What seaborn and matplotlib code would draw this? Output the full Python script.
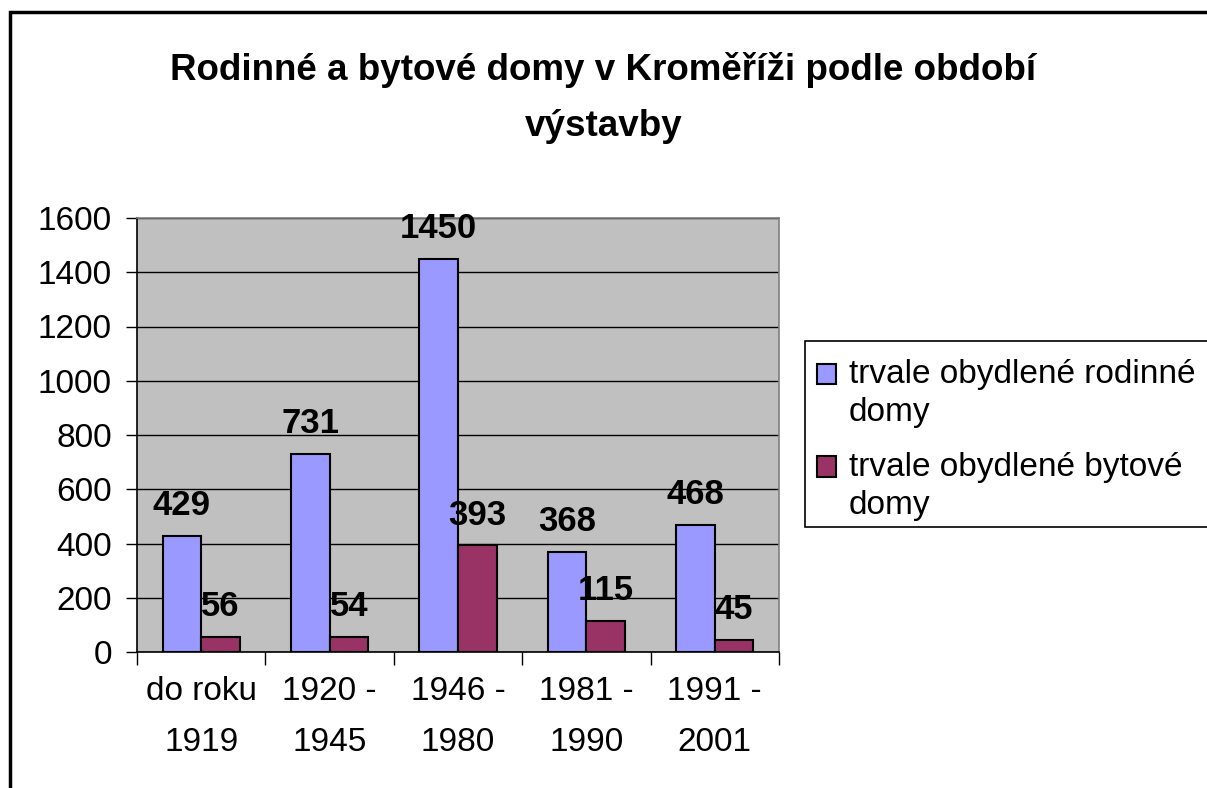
import matplotlib
matplotlib.use("Agg")
import matplotlib.pyplot as plt
from matplotlib.patches import Rectangle, Patch
from matplotlib.legend_handler import HandlerPatch
import seaborn as sns
import pandas as pd

categories = ["do roku\n1919", "1920 -\n1945", "1946 -\n1980", "1981 -\n1990", "1991 -\n2001"]
series_names = ["trvale obydlené rodinné domy", "trvale obydlené bytové domy"]
legend_labels = ["trvale obydlené rodinné\ndomy", "trvale obydlené bytové\ndomy"]
rodinne = [429, 731, 1450, 368, 468]
bytove = [56, 54, 393, 115, 45]
colors = ["#9999FF", "#993366"]
title = "Rodinné a bytové domy v Kroměříži podle období\nvýstavby"

sns.set_theme(style="white")
plt.rcParams["font.family"] = ["Liberation Sans", "DejaVu Sans"]
plt.rcParams["text.color"] = "black"
plt.rcParams["xtick.color"] = "black"
plt.rcParams["ytick.color"] = "black"
plt.rcParams["axes.labelcolor"] = "black"

df = pd.DataFrame({
    "kategorie": categories * 2,
    "serie": [series_names[0]] * len(categories) + [series_names[1]] * len(categories),
    "pocet": rodinne + bytove,
})

fig = plt.figure(figsize=(12.07, 7.88), dpi=100)
fig.patch.set_facecolor("white")
ax = fig.add_axes([137 / 1207, 1 - 652 / 788, (779 - 137) / 1207, (652 - 218) / 788])
ax.set_facecolor("#C0C0C0")

sns.barplot(data=df, x="kategorie", y="pocet", hue="serie", palette=colors,
            width=0.6, edgecolor="black", linewidth=1.5, ax=ax, legend=False,
            saturation=1, zorder=3)

ax.set_ylim(0, 1600)
ax.set_xlim(-0.5, len(categories) - 0.5)
ax.set_yticks(range(0, 1601, 200))
ax.yaxis.grid(True, color="black", linewidth=1, zorder=1)
ax.set_axisbelow(True)
ax.set_xlabel("")
ax.set_ylabel("")

for c in ax.containers:
    ax.bar_label(c, padding=10, fontsize=25, fontweight="bold", color="black")

ax.tick_params(axis="y", labelsize=24, length=8, width=1, color="black", left=True,
               pad=10, labelcolor="black")
ax.set_xticks(range(len(categories)))
ax.set_xticklabels(categories, fontsize=24, linespacing=1.85, color="black")
ax.tick_params(axis="x", which="major", length=0, pad=17)
ax.set_xticks([i - 0.5 for i in range(len(categories) + 1)], minor=True)
ax.tick_params(axis="x", which="minor", length=9, width=1, color="black", bottom=True)

for side in ["left", "bottom"]:
    ax.spines[side].set_color("black")
    ax.spines[side].set_linewidth(1.2)
for side in ["top", "right"]:
    ax.spines[side].set_color("#808080")
    ax.spines[side].set_linewidth(1.2)

fig.text(0.5, 1 - 98 / 788, title, ha="center", va="center", fontsize=26.5,
         fontweight="bold", linespacing=1.75, color="black")


def top_square(legend, orig_handle, xdescent, ydescent, width, height, fontsize):
    return Rectangle((-xdescent, -ydescent + 0.6 * fontsize), width, height)


# legend frame (extends past the right edge as in the reference)
fig.add_artist(Rectangle((805 / 1207, 1 - 527 / 788), 0.5, (527 - 341) / 788,
                         transform=fig.transFigure, facecolor="white",
                         edgecolor="black", linewidth=1.2, zorder=4))

handles = [Patch(facecolor=colors[0], edgecolor="black", linewidth=1.5),
           Patch(facecolor=colors[1], edgecolor="black", linewidth=1.5)]
leg = fig.legend(handles, legend_labels, loc="upper left",
                 bbox_to_anchor=(817 / 1207, 1 - 359 / 788),
                 fontsize=24, frameon=False,
                 handlelength=0.56, handleheight=0.56, handletextpad=0.4,
                 labelspacing=0.7, borderpad=0, borderaxespad=0,
                 handler_map={Patch: HandlerPatch(patch_func=top_square)})
leg.set_zorder(5)
for t in leg.get_texts():
    t.set_linespacing(1.3)
    t.set_color("black")

fig.add_artist(Rectangle((10 / 1207, -0.1), 1.2, (1 - 12 / 788) + 0.1,
                         transform=fig.transFigure, fill=False,
                         edgecolor="black", linewidth=2.5))

fig.savefig("out.png", dpi=100)
